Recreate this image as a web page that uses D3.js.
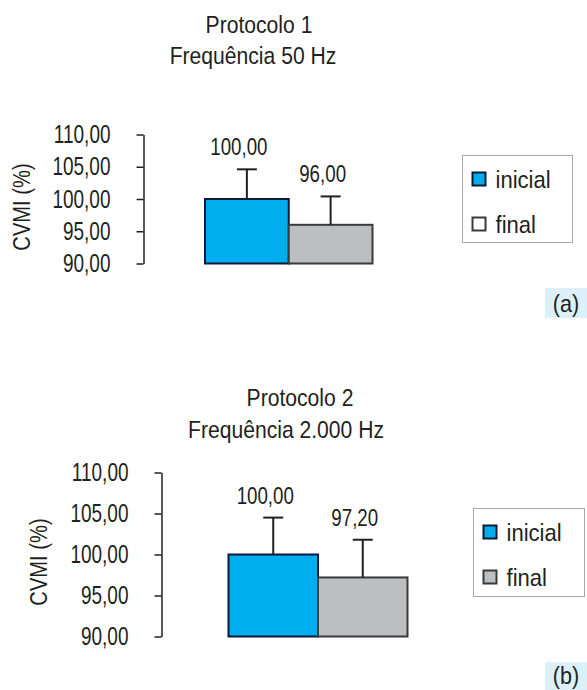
<!DOCTYPE html>
<html>
<head>
<meta charset="utf-8">
<script src="https://cdn.jsdelivr.net/npm/d3@7"></script>
<style>
  body { margin: 0; background: #fff; }
  svg text { font-family: "Liberation Sans", Arial, sans-serif; fill: #231f20; }
</style>
</head>
<body>
<div id="chart"></div>
<script>
// data
const groups = ["inicial", "final"];
const yTicks = [90, 95, 100, 105, 110];
const yLabel = "CVMI (%)";

const titlesA = ["Protocolo 1", "Frequência 50 Hz"];
const meansA = [100.00, 96.00];
const sdA = [4.6, 4.4];

const titlesB = ["Protocolo 2", "Frequência 2.000 Hz"];
const meansB = [100.00, 97.20];
const sdB = [4.5, 4.6];

const fmt = d3.formatLocale({ decimal: ",", thousands: ".", grouping: [3], currency: ["", ""] }).format(".2f");

const barFill = { inicial: "#00aeef", final: "#bcbec0" };
const barStroke = { inicial: "#0c1836", final: "#3a3a3a" };
const ink = "#231f20";

const svg = d3.select("#chart")
  .append("svg")
  .attr("width", 587)
  .attr("height", 690);

// no condensed face installed: squeeze the glyphs horizontally instead
function squeeze(sel, sx) {
  sel.each(function () {
    const t = d3.select(this);
    const x = +t.attr("x") || 0, y = +t.attr("y") || 0;
    const pre = t.attr("data-pre") || "";
    t.attr("x", 0).attr("y", 0)
      .attr("transform", `translate(${x},${y}) ${pre} scale(${sx},1)`);
  });
}

function drawPanel(p) {
  const g = svg.append("g");

  const y = d3.scaleLinear()
    .domain([90, 110])
    .range(p.yRange);

  const x = d3.scaleBand()
    .domain(groups)
    .range(p.barRange)
    .padding(0);

  // titles
  g.selectAll("text.title")
    .data(p.titles)
    .join("text")
    .attr("class", "title")
    .attr("x", (d, i) => p.titleX[i])
    .attr("y", (d, i) => p.titleY[i])
    .attr("text-anchor", "middle")
    .style("font-size", "24px")
    .text(d => d)
    .call(squeeze, 0.88);

  // y axis
  const axis = g.append("g")
    .attr("transform", `translate(${p.axisX},0)`)
    .call(d3.axisLeft(y).tickValues(yTicks).tickFormat(fmt).tickSize(7).tickSizeOuter(0).tickPadding(26));
  axis.select(".domain").attr("stroke", ink).attr("stroke-width", 1.5);
  axis.selectAll(".tick line").attr("stroke", ink).attr("stroke-width", 1.5);
  axis.selectAll(".tick text")
    .style("font-size", "25px")
    .attr("fill", ink)
    .call(squeeze, 0.76);

  g.append("text")
    .attr("x", p.yLabelPos[0])
    .attr("y", p.yLabelPos[1])
    .attr("data-pre", "rotate(-90)")
    .attr("text-anchor", "middle")
    .attr("dy", "0.36em")
    .style("font-size", "24px")
    .text(yLabel)
    .call(squeeze, 0.84);

  // bars
  g.selectAll("rect.bar")
    .data(groups)
    .join("rect")
    .attr("class", "bar")
    .attr("x", d => x(d))
    .attr("y", (d, i) => y(p.means[i]))
    .attr("width", x.bandwidth())
    .attr("height", (d, i) => y(90) - y(p.means[i]))
    .attr("fill", d => barFill[d])
    .attr("stroke", d => barStroke[d])
    .attr("stroke-width", 2);

  // error bars
  const cap = 10;
  const err = g.selectAll("g.err")
    .data(groups)
    .join("g")
    .attr("class", "err");
  err.append("line")
    .attr("x1", d => x(d) + x.bandwidth() / 2)
    .attr("x2", d => x(d) + x.bandwidth() / 2)
    .attr("y1", (d, i) => y(p.means[i]))
    .attr("y2", (d, i) => y(p.means[i] + p.sds[i]))
    .attr("stroke", ink)
    .attr("stroke-width", 2);
  err.append("line")
    .attr("x1", d => x(d) + x.bandwidth() / 2 - cap)
    .attr("x2", d => x(d) + x.bandwidth() / 2 + cap)
    .attr("y1", (d, i) => y(p.means[i] + p.sds[i]))
    .attr("y2", (d, i) => y(p.means[i] + p.sds[i]))
    .attr("stroke", ink)
    .attr("stroke-width", 2);

  // value labels
  g.selectAll("text.val")
    .data(groups)
    .join("text")
    .attr("class", "val")
    .attr("x", d => x(d) + x.bandwidth() / 2 - 8)
    .attr("y", (d, i) => y(p.means[i] + p.sds[i]) - 14)
    .attr("text-anchor", "middle")
    .style("font-size", "24px")
    .text((d, i) => fmt(p.means[i]))
    .call(squeeze, 0.78);

  // legend
  const lb = p.legendBox;
  g.append("rect")
    .attr("x", lb[0]).attr("y", lb[1])
    .attr("width", lb[2]).attr("height", lb[3])
    .attr("fill", "#fff")
    .attr("stroke", "#a7a9ac")
    .attr("stroke-width", 1);

  const rows = g.selectAll("g.leg")
    .data(groups)
    .join("g")
    .attr("class", "leg")
    .attr("transform", (d, i) => `translate(${lb[0] + 10},${lb[1] + 17 + i * 45})`);
  rows.append("rect")
    .attr("width", 13).attr("height", 13)
    .attr("fill", d => p.legendFill[d])
    .attr("stroke", d => barStroke[d])
    .attr("stroke-width", 2);
  rows.append("text")
    .attr("x", 23)
    .attr("y", 15)
    .style("font-size", "24px")
    .text(d => d)
    .call(squeeze, 0.92);

  // panel tag
  const tb = p.tagBox;
  g.append("rect")
    .attr("x", tb[0]).attr("y", tb[1])
    .attr("width", tb[2]).attr("height", tb[3])
    .attr("fill", "#dcf0fa");
  g.append("text")
    .attr("x", tb[0] + tb[2] / 2)
    .attr("y", tb[1] + tb[3] - 6)
    .attr("text-anchor", "middle")
    .style("font-size", "24px")
    .text(p.tag)
    .call(squeeze, 0.9);
}

drawPanel({
  titles: titlesA, titleX: [259, 253], titleY: [33, 64],
  means: meansA, sds: sdA,
  axisX: 143.5, yRange: [263.5, 134.5], barRange: [205, 372.5],
  yLabelPos: [21, 207],
  legendBox: [462.5, 155.5, 110, 87],
  legendFill: { inicial: "#00aeef", final: "#ffffff" },
  tagBox: [545, 288, 42, 30], tag: "(a)"
});

drawPanel({
  titles: titlesB, titleX: [300, 286], titleY: [406, 438],
  means: meansB, sds: sdB,
  axisX: 161.5, yRange: [636.5, 472.5], barRange: [228.5, 407.5],
  yLabelPos: [38, 562],
  legendBox: [473.5, 508.5, 111, 88],
  legendFill: { inicial: "#00aeef", final: "#bcbec0" },
  tagBox: [545, 662, 42, 28], tag: "(b)"
});
</script>
</body>
</html>
